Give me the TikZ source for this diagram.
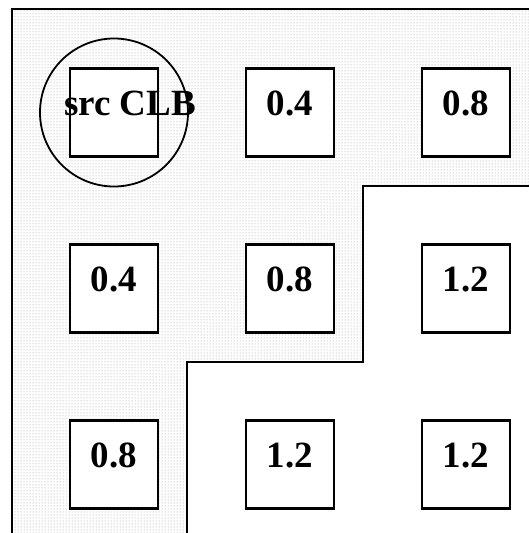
\documentclass[tikz,border=0pt]{standalone}
\usepackage{fontspec}
\setmainfont{Liberation Serif}
\usetikzlibrary{positioning, patterns}

\begin{document}
\begin{tikzpicture}[
        x=1pt, y=-1pt,
        node distance=85.5pt,
        clb/.style={draw, line width=2.5pt, fill=white, minimum size=88pt, inner sep=0pt,
            text height=25pt, text depth=20pt, font=\fontsize{37}{40}\selectfont\bfseries},
        lbl/.style={inner sep=0pt, text height=25pt, text depth=20pt,
            font=\fontsize{37}{40}\selectfont\bfseries},
        ring/.style={draw, circle, line width=1.8pt, minimum size=148pt, inner sep=0pt},
        edge/.style={line width=2.5pt}
    ]
        \useasboundingbox (0,0) rectangle (529,533);
        \fill[pattern=dots, pattern color=gray!80] (12,9) rectangle (529,533);
        \fill[white] (529,186) -- (363,186) -- (363,362) -- (187,362) -- (187,533) -- (529,533) -- cycle;
        \draw[edge] (529,186) -- (363,186) -- (363,362) -- (187,362) -- (187,533);
        \draw[edge] (12,533) -- (12,9) -- (529,9);
        % row 1
        \node[clb] (src) at (114,112.5) {};
        \node[clb, right=of src] (a2) {0.4};
        \node[clb, right=of a2] (a3) {0.8};
        % row 2
        \node[clb, below=of src] (b1) {0.4};
        \node[clb, right=of b1] (b2) {0.8};
        \node[clb, right=of b2] (b3) {1.2};
        % row 3
        \node[clb, below=of b1] (c1) {0.8};
        \node[clb, right=of c1] (c2) {1.2};
        \node[clb, right=of c2] (c3) {1.2};
        \node[ring] (ring) at (src.center) {};
        \node[lbl] (srclbl) at ([xshift=16pt]src.center) {src CLB};
    \end{tikzpicture}
\end{document}
